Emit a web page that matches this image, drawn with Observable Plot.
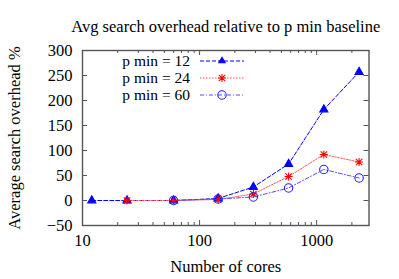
<!DOCTYPE html>
<html>
<head>
<meta charset="utf-8">
<script src="https://cdn.jsdelivr.net/npm/d3@7"></script>
<script src="https://cdn.jsdelivr.net/npm/@observablehq/plot@0.6"></script>
<style>
  html, body { margin: 0; padding: 0; background: #fff; }
  svg { display: block; }
</style>
</head>
<body>
<div id="chart"></div>
<script>
const cores = [12, 24, 60, 144, 288, 576, 1152, 2304];
const p12 = [0, 0, 0, 4, 27, 73, 182, 257];
const p24 = [null, 0, 0, 2, 13, 48, 92, 77];
const p60 = [null, null, 0, 3, 7, 25, 62, 45];
const seriesNames = ["p min = 12", "p min = 24", "p min = 60"];
const yTicks = [-50, 0, 50, 100, 150, 200, 250, 300];
const xMajor = [10, 100, 1000];
const xMinor = [20, 30, 40, 50, 60, 70, 80, 90, 200, 300, 400, 500, 600, 700, 800, 900, 2000];

const W = 399, H = 279;
const mL = 82, mR = 30.5, mT = 50, mB = 54;
const FW = W - mL - mR, FH = H - mT - mB;
const FONT = "'Liberation Serif', 'Times New Roman', serif";
const FS = 16.5;
const LFS = 15.5;

const star = {
  draw(ctx, size) {
    const r = Math.sqrt(size / Math.PI);
    ctx.moveTo(-r, 0); ctx.lineTo(r, 0);
    ctx.moveTo(0, -r); ctx.lineTo(0, r);
    const d = r * 0.8;
    ctx.moveTo(-d, -d); ctx.lineTo(d, d);
    ctx.moveTo(-d, d); ctx.lineTo(d, -d);
  }
};

const styles = [
  {line: "#0000ff", mark: "#0000ff", dash: "4,2", symbol: "triangle", fill: "#0000ff", r: 3.0},
  {line: "#ff5050", mark: "#ff0000", dash: "1.5,1.5", symbol: star, fill: "none", r: 4.0},
  {line: "#5050ff", mark: "#2020ff", dash: "4,2,1,2", symbol: "circle", fill: "none", r: 4.2}
];

function rows(vals, s) {
  return cores.map((c, i) => ({cores: c, v: vals[i], s})).filter(d => d.v != null);
}
const data = [rows(p12, 0), rows(p24, 1), rows(p60, 2)];

const marks = [];
data.forEach((d, i) => {
  const st = styles[i];
  marks.push(Plot.line(d, {x: "cores", y: "v", stroke: st.line, strokeWidth: 1, strokeDasharray: st.dash}));
});
data.forEach((d, i) => {
  const st = styles[i];
  marks.push(Plot.dot(d, {x: "cores", y: "v", symbol: () => st.symbol, r: st.r, stroke: st.mark, fill: st.fill, strokeWidth: 1.1}));
});

const tickColor = "#555";
marks.push(Plot.tickY(yTicks, {y: d => d, insetRight: FW - 5, stroke: tickColor}));
marks.push(Plot.tickY(yTicks, {y: d => d, insetLeft: FW - 5, stroke: tickColor}));
marks.push(Plot.tickX(xMajor, {x: d => d, insetTop: FH - 5, stroke: tickColor}));
marks.push(Plot.tickX(xMajor, {x: d => d, insetBottom: FH - 5, stroke: tickColor}));
marks.push(Plot.tickX(xMinor, {x: d => d, insetTop: FH - 3, stroke: tickColor}));
marks.push(Plot.tickX(xMinor, {x: d => d, insetBottom: FH - 3, stroke: tickColor}));
marks.push(Plot.frame({stroke: "#555", strokeWidth: 1.4}));

marks.push(Plot.axisY(yTicks, {tickSize: 0, tickPadding: 10, fontSize: FS, fill: "#000", label: null}));
marks.push(Plot.axisX(xMajor, {tickSize: 0, tickPadding: 9, fontSize: FS, fill: "#000", label: null, tickFormat: d => String(d)}));

marks.push(Plot.text(["Avg search overhead relative to p min baseline"], {frameAnchor: "top", lineAnchor: "middle", dy: -24, fontSize: FS, fill: "#000"}));
marks.push(Plot.text(["Number of cores"], {frameAnchor: "bottom", lineAnchor: "middle", dy: 41, fontSize: FS, fill: "#000"}));
marks.push(Plot.text(["Average search overhead %"], {frameAnchor: "left", textAnchor: "middle", lineAnchor: "middle", dx: -68, rotate: -90, fontSize: FS, fill: "#000"}));

const chart = Plot.plot({
  width: W, height: H,
  marginLeft: mL, marginRight: mR, marginTop: mT, marginBottom: mB,
  style: {fontFamily: FONT, background: "#fff", overflow: "visible"},
  x: {type: "log", domain: [10, 2800]},
  y: {domain: [-50, 300]},
  marks
});

const svg = d3.select(chart);
const g = svg.append("g").attr("font-family", FONT).attr("font-size", LFS);
const legY = [61, 78, 95];
seriesNames.forEach((name, i) => {
  const st = styles[i];
  const y = legY[i];
  g.append("text").attr("x", 190).attr("y", y).attr("dy", "0.32em").attr("text-anchor", "end").text(name);
  g.append("line").attr("x1", 200).attr("x2", 244).attr("y1", y).attr("y2", y)
    .attr("stroke", st.line).attr("stroke-dasharray", st.dash);
  const sym = typeof st.symbol === "string" ? (st.symbol === "triangle" ? d3.symbolTriangle2 : d3.symbolCircle) : st.symbol;
  g.append("path").attr("transform", `translate(222,${y})`)
    .attr("d", d3.symbol(sym, st.r * st.r * Math.PI)())
    .attr("fill", st.fill).attr("stroke", st.mark).attr("stroke-width", 1.1);
});

document.getElementById("chart").appendChild(chart);
</script>
</body>
</html>
